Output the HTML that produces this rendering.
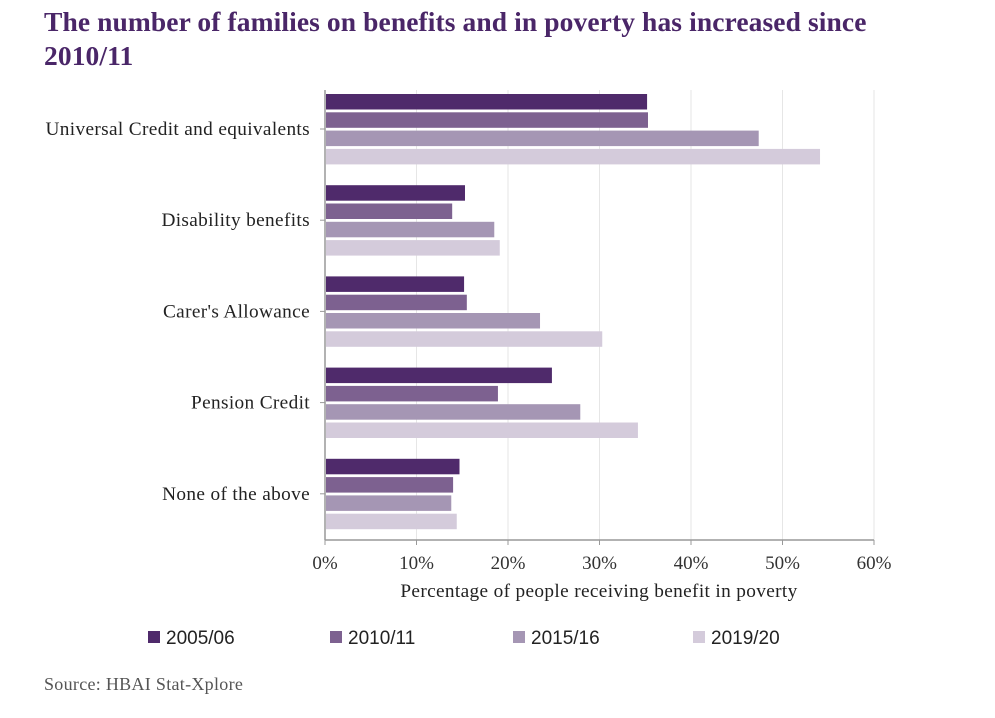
<!DOCTYPE html>
<html><head><meta charset="utf-8"><style>
body{margin:0;background:#fff;width:995px;height:718px;overflow:hidden;font-family:"Liberation Serif",serif;}
h1{position:absolute;left:44px;top:5px;margin:0;font-size:27.5px;line-height:34px;color:#4a2668;font-weight:bold;width:880px;letter-spacing:0.1px;}
</style></head><body>
<h1>The number of families on benefits and in poverty has increased since 2010/11</h1>
<svg id="c" width="995" height="718" style="position:absolute;left:0;top:0"></svg>
<script>
const categories=["Universal Credit and equivalents","Disability benefits","Carer's Allowance","Pension Credit","None of the above"];
const seriesNames=["2005/06","2010/11","2015/16","2019/20"];
const s0506=[35.2,15.3,15.2,24.8,14.7];
const s1011=[35.3,13.9,15.5,18.9,14.0];
const s1516=[47.4,18.5,23.5,27.9,13.8];
const s1920=[54.1,19.1,30.3,34.2,14.4];
const ticks=[0,10,20,30,40,50,60];
const series=[s0506,s1011,s1516,s1920];
const colors=["#4f2a6b","#7d6190","#a596b4","#d4cbdb"];
const NS="http://www.w3.org/2000/svg";
const svg=document.getElementById('c');
const x0=325,x1=874,top0=90,bot=540;
const xs=v=>x0+(v/60)*(x1-x0);
const groupTop=i=>94+i*91.2;
function el(t,a,txt){const e=document.createElementNS(NS,t);for(const k in a)e.setAttribute(k,a[k]);if(txt!==undefined)e.textContent=txt;svg.appendChild(e);return e;}
ticks.forEach(t=>{
  if(t>0){const g=el('line',{x1:xs(t),x2:xs(t),y1:top0,y2:bot,stroke:'#e6e6e6','stroke-width':1});
  
  }
  const tk=el('line',{x1:xs(t),x2:xs(t),y1:bot,y2:bot+5,stroke:'#999'});
  
  
  const l=el('text',{x:xs(t),y:bot+29,'text-anchor':'middle','font-size':19,fill:'#333','font-family':'Liberation Serif'},t+'%');
  
  
});
categories.forEach((c,i)=>{
  series.forEach((s,j)=>{
    const r=el('rect',{x:x0+1,y:groupTop(i)+j*18.3,width:xs(s[i])-x0-1,height:15.5,fill:colors[j]});
    
    
  });
  const cy=groupTop(i)+35;
  el('line',{x1:x0-5,x2:x0,y1:cy,y2:cy,stroke:'#999'});
  const l=el('text',{x:310,y:cy+6,'text-anchor':'end','font-size':19.3,'letter-spacing':0.35,fill:'#222','font-family':'Liberation Serif'},c);
  
  
});
const ya=el('line',{x1:x0,x2:x0,y1:top0,y2:bot,stroke:'#999','stroke-width':1.5});


const xa=el('line',{x1:x0,x2:x1,y1:bot,y2:bot,stroke:'#999','stroke-width':1.5});


const xt=el('text',{x:599,y:597,'text-anchor':'middle','font-size':19.3,'letter-spacing':0.35,fill:'#222','font-family':'Liberation Serif'},'Percentage of people receiving benefit in poverty');


const lx=[148,330,513,693];
seriesNames.forEach((n,j)=>{
  const r=el('rect',{x:lx[j],y:631,width:12,height:12,fill:colors[j]});
  
  
  const t=el('text',{x:lx[j]+18,y:644,'font-size':19,fill:'#222','font-family':'Liberation Sans'},n);
  
  
});
const src=el('text',{x:44,y:690,'font-size':18,'letter-spacing':0.3,fill:'#555','font-family':'Liberation Serif'},'Source: HBAI Stat-Xplore');


</script>
</body></html>
